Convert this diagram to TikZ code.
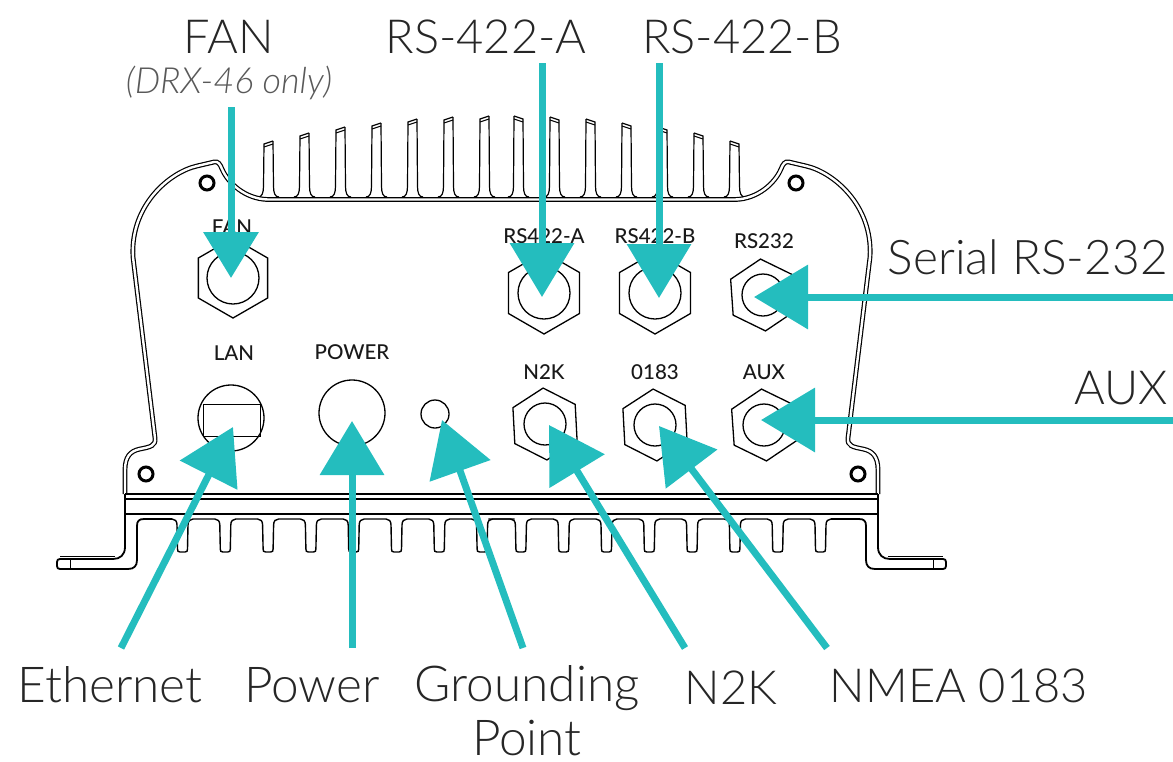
\documentclass[tikz,border=0pt]{standalone}
\usepackage{fontspec}
\setmainfont{Lato}
\newfontfamily\thinfont{Lato Light}
\newfontfamily\markfont{Lato Medium}
\usetikzlibrary{arrows.meta}
\usetikzlibrary{shapes.geometric}
\definecolor{calloutteal}{RGB}{36,189,190}
\tikzset{
  biglabel/.style={font=\thinfont\fontsize{47}{57}\selectfont,text=black!85,inner sep=0pt},
  lowerlabel/.style={biglabel,font=\thinfont\fontsize{49.5}{57}\selectfont},
  smalllabel/.style={font=\markfont\fontsize{20.5}{22}\selectfont,text=black!90,inner sep=0pt},
  callout/.style={draw=calloutteal,line width=7pt,-{Triangle[length=54pt,width=63pt]}},
  hexnut/.style={draw,line width=1.3pt,regular polygon,regular polygon sides=6,inner sep=0pt},
  bore/.style={draw,line width=1.3pt,circle,inner sep=0pt},
  screw/.style={draw,line width=3pt,circle,inner sep=0pt,minimum size=14pt},
  shell/.style={line width=1.2pt,double,double distance=2.4pt},
  rim/.style={line width=1.8pt,line join=round}
}
\newcommand{\halfbody}{
  \foreach \finx/\finy in {263/143,299/135,335/129,371/125,407/121,443/119,479/118}{
    \draw[line width=1.2pt] (\finx-5,197) .. controls (\finx-1,197) and (\finx+0.5,193) .. (\finx+0.5,186) -- (\finx+1,\finy+1) -- (\finx+10,\finy-2);
    \draw[line width=1pt] (\finx+1,\finy+4) -- (\finx+10,\finy+1);
    \draw[line width=1.2pt] (\finx+10,\finy-2) -- (\finx+10.5,186) .. controls (\finx+10.5,193) and (\finx+12,197) .. (\finx+16,197);
  }
  \draw[shell] (125,494) -- (125,470) .. controls (125,457) and (130,451) .. (140,449) .. controls (150,447) and (156,446) .. (155,438) -- (133,257) .. controls (130,205) and (170,172) .. (197,166) -- (214,162) .. controls (218,161) and (220,164) .. (222,169) .. controls (228,183) and (245,199) .. (268,199.5) -- (502,199.5);
  \draw[rim] (125,494) -- (125,547) .. controls (125,555) and (120,559) .. (113,559) -- (60,559) .. controls (58,559) and (57,560) .. (57,562) -- (57,566) .. controls (57,568) and (58,569) .. (60,569) -- (128,569) .. controls (134,569) and (137,566) .. (137,560) -- (137,526) .. controls (137,521) and (139,519) .. (144,519) -- (172,519);
  \draw[line width=0.8pt] (115,556) -- (60,556);
  \draw[line width=0.8pt] (70,559) -- (70,569);
  \foreach \k in {0,...,7}{
    \pgfmathsetmacro{\rootx}{177+42.8*\k}
    \draw[line width=1.4pt] (\rootx-5,519) .. controls (\rootx-2,519) and (\rootx,521) .. (\rootx,525) -- (\rootx+0.5,549) .. controls (\rootx+0.5,551) and (\rootx+1,552) .. (\rootx+3,552) -- (\rootx+8,552) .. controls (\rootx+10,552) and (\rootx+10.5,551) .. (\rootx+10.5,549) -- (\rootx+11,525) .. controls (\rootx+11,521) and (\rootx+13,519) .. (\rootx+16,519) -- (\rootx+38,519);
  }
}
\begin{document}
\begin{tikzpicture}[x=1pt,y=-1pt]
  \useasboundingbox (0,0) rectangle (1173,761);

  \halfbody
  \begin{scope}[xshift=1003pt,xscale=-1]
    \halfbody
  \end{scope}
  \draw[line width=1.2pt] (125,494)--(878,494);
  \draw[line width=2.4pt] (125,499)--(878,499);
  \draw[line width=1.6pt] (125,514)--(878,514);

  \foreach \nm/\px/\py in {screwa/207/183,screwb/796/183,screwc/146/474,screwd/858/474}
    \node[screw] (\nm) at (\px,\py) {};

  \foreach \nm/\px/\py/\hexd/\bored/\tilt in {fan/233/278/80/52/30,rsa/544/293/82/52/30,rsb/655/293/82/52/30,rsc/763/295/72/42/34,ntwok/545/424/72/42/33,nmea/655/425/72/42/33,aux/764/425/72/42/34}{
    \node[hexnut,minimum size=\hexd pt,rotate=\tilt] (\nm) at (\px,\py) {};
    \node[bore,minimum size=\bored pt] (\nm-bore) at (\px,\py) {};
  }
  \node[bore,minimum size=66pt] (lan) at (231,418) {};
  \node[draw,line width=1pt,inner sep=0pt,minimum width=57pt,minimum height=32pt] (lanslot) at (231.5,420) {};
  \node[bore,minimum size=66pt] (power) at (352,413) {};
  \node[bore,minimum size=28pt] (ground) at (435,414) {};

  \node[smalllabel] (fanmark) at (232,227) {FAN};
  \node[smalllabel] (rsamark) at (544,236) {RS422-A};
  \node[smalllabel] (rsbmark) at (655,236) {RS422-B};
  \node[smalllabel] (rscmark) at (764,241) {RS232};
  \node[smalllabel] (lanmark) at (234,353) {LAN};
  \node[smalllabel] (powermark) at (352,352) {POWER};
  \node[smalllabel] (ntwokmark) at (544,372) {N2K};
  \node[smalllabel] (nmeamark) at (655,372) {0183};
  \node[smalllabel] (auxmark) at (764,372) {AUX};

  \node[biglabel] (fantext) at (229,37) {FAN};
  \node[biglabel,font=\thinfont\itshape\fontsize{36}{38}\selectfont,text=black!65] (fannote) at (229,83) {(DRX-46 only)};
  \node[biglabel] (rsatext) at (486,37) {RS-422-A};
  \node[biglabel] (rsbtext) at (742,37) {RS-422-B};
  \node[biglabel,font=\thinfont\fontsize{47.8}{57}\selectfont,anchor=east] (rsctext) at (1168,257) {Serial RS-232};
  \node[biglabel,anchor=east] (auxtext) at (1168,388) {AUX};
  \node[lowerlabel] (lantext) at (110,685) {Ethernet};
  \node[lowerlabel] (powertext) at (312,685) {Power};
  \node[lowerlabel,anchor=base] (groundtext) at (527,701) {Grounding};
  \node[lowerlabel,anchor=base] (groundtextb) at (527,755) {Point};
  \node[biglabel] (ntwoktext) at (731,688) {N2K};
  \node[biglabel] (nmeatext) at (959,686) {NMEA 0183};

  \coordinate (rscend) at (1173,297);
  \coordinate (auxend) at (1173,420);
  \coordinate (fanend) at (231,107);
  \coordinate (rsaend) at (542,63);
  \coordinate (rsbend) at (659,63);
  \coordinate (lanend) at (121,648);
  \coordinate (powerend) at (352,648);
  \coordinate (groundend) at (523,648);
  \coordinate (ntwokend) at (685,648);
  \coordinate (nmeaend) at (827,648);

  \draw[callout,-{Triangle[length=46pt,width=54pt]}] (fanend) -- ([xshift=-2pt]fan.center);
  \draw[callout] (rsaend) -- ([xshift=-2pt,yshift=-4pt]rsa.center);
  \draw[callout] (rsbend) -- ([xshift=4pt,yshift=-5pt]rsb.center);
  \draw[callout] (rscend) -- ([xshift=-9pt,yshift=-2pt]rsc.center);
  \draw[callout] (auxend) -- ([xshift=-3pt,yshift=5pt]aux.center);
  \draw[callout] (lanend) -- ([xshift=2pt,yshift=-9pt]lan.center);
  \draw[callout] (powerend) -- ([yshift=-8pt]power.center);
  \draw[callout] (groundend) -- ([xshift=7pt,yshift=-6pt]ground.center);
  \draw[callout] (ntwokend) -- ([xshift=4pt,yshift=-1pt]ntwok.center);
  \draw[callout] (nmeaend) -- ([xshift=4pt,yshift=-1pt]nmea.center);
\end{tikzpicture}
\end{document}
